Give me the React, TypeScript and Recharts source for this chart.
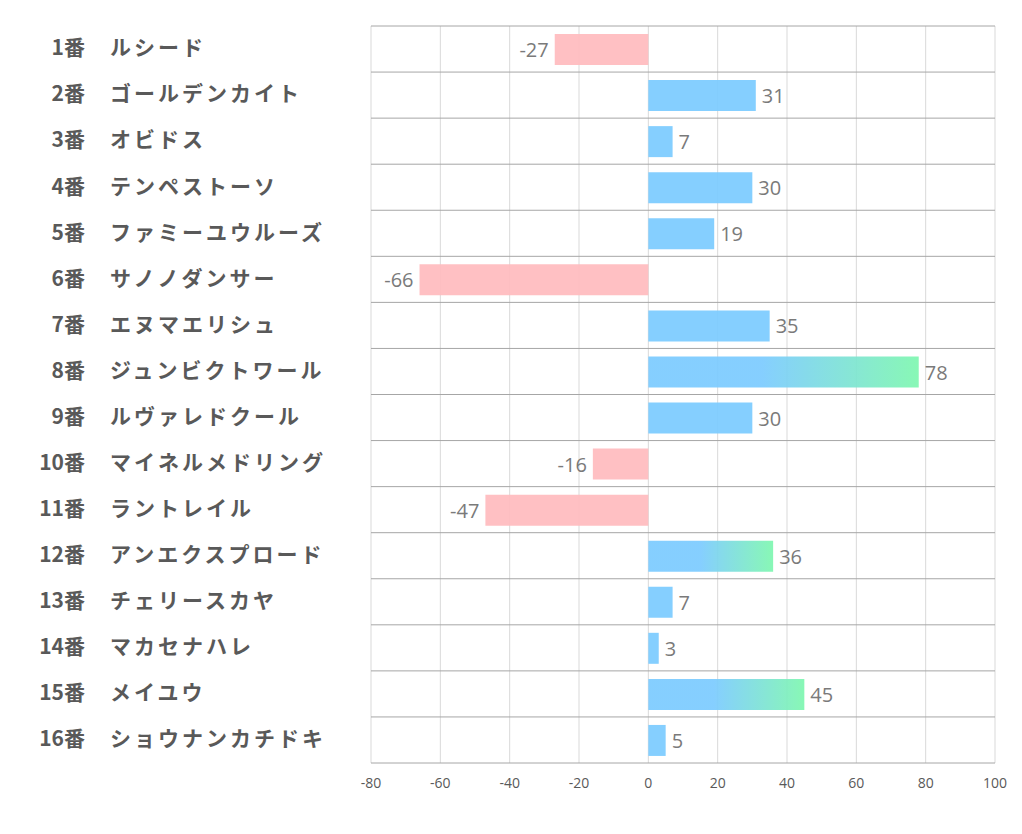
import { BarChart, Bar, XAxis, YAxis, CartesianGrid, Cell, LabelList } from 'recharts';

const nums = ['1番', '2番', '3番', '4番', '5番', '6番', '7番', '8番', '9番', '10番', '11番', '12番', '13番', '14番', '15番', '16番'];
const horses = [
  'ルシード', 'ゴールデンカイト', 'オビドス', 'テンペストーソ', 'ファミーユウルーズ', 'サノノダンサー',
  'エヌマエリシュ', 'ジュンビクトワール', 'ルヴァレドクール', 'マイネルメドリング', 'ラントレイル',
  'アンエクスプロード', 'チェリースカヤ', 'マカセナハレ', 'メイユウ', 'ショウナンカチドキ',
];
const scores = [-27, 31, 7, 30, 19, -66, 35, 78, 30, -16, -47, 36, 7, 3, 45, 5];
const highlighted = ['8番', '12番', '15番'];
const xTicks = [-80, -60, -40, -20, 0, 20, 40, 60, 80, 100];

const data = nums.map((n, i) => ({ num: n, name: horses[i], score: scores[i] }));

const BLUE = '#7ccbff';
const PINK = '#ffbbbe';

const NameTick = (props: any) => {
  const { y, payload } = props;
  const row = data[payload.index] || data.find((d) => d.num === payload.value);
  return (
    <g>
      <text x={77} y={y} dy="0.3em" textAnchor="end" fill="#595959" fontSize={21} fontWeight="bold"
        fontFamily="'Noto Sans CJK JP', 'Noto Sans', sans-serif">
        {payload.value}
      </text>
      <text x={102} y={y} dy="0.3em" textAnchor="start" fill="#595959" fontSize={21} fontWeight="bold"
        letterSpacing={3} fontFamily="'Noto Sans CJK JP', sans-serif">
        {row ? row.name : ''}
      </text>
    </g>
  );
};

const ValueLabel = (props: any) => {
  const { x, y, width, height, value } = props;
  const neg = value < 0;
  const left = Math.min(x, x + width);
  const right = Math.max(x, x + width);
  return (
    <text x={neg ? left - 6 : right + 6} y={y + height / 2} dy="0.38em" textAnchor={neg ? 'end' : 'start'}
      fill="#7a7a7a" fontSize={20} fontFamily="'Open Sans', sans-serif">
      {value}
    </text>
  );
};

const rowLines = ({ offset }: any) => {
  const out: number[] = [];
  for (let i = 0; i <= data.length; i++) out.push(offset.top + (offset.height * i) / data.length);
  return out;
};

export default function App() {
  return (
    <BarChart width={1006} height={818} data={data} layout="vertical"
      margin={{ top: 18, right: 19, bottom: 33, left: 0 }} barSize={31}>
      <defs>
        <linearGradient id="hl" x1="0" y1="0" x2="1" y2="0">
          <stop offset="0.42" stopColor={BLUE} />
          <stop offset="1" stopColor="#7ff7b0" />
        </linearGradient>
      </defs>
      <CartesianGrid horizontal={false} stroke="#d9d9d9" />
      <CartesianGrid vertical={false} stroke="#a6a6a6" horizontalCoordinatesGenerator={rowLines} />
      <XAxis type="number" domain={[-80, 100]} ticks={xTicks} interval={0} tickLine={false} axisLine={false}
        tickSize={0} tickMargin={15} tick={{ fill: '#595959', fontSize: 14, fontFamily: "'Open Sans', sans-serif" }} height={30} />
      <YAxis type="category" dataKey="num" width={363} tickLine={false} axisLine={false} tick={<NameTick />} interval={0} />
      <Bar dataKey="score" isAnimationActive={false} fillOpacity={0.93}>
        {data.map((d) => (
          <Cell key={d.num} fill={d.score < 0 ? PINK : highlighted.includes(d.num) ? 'url(#hl)' : BLUE} />
        ))}
        <LabelList dataKey="score" content={<ValueLabel />} />
      </Bar>
    </BarChart>
  );
}
